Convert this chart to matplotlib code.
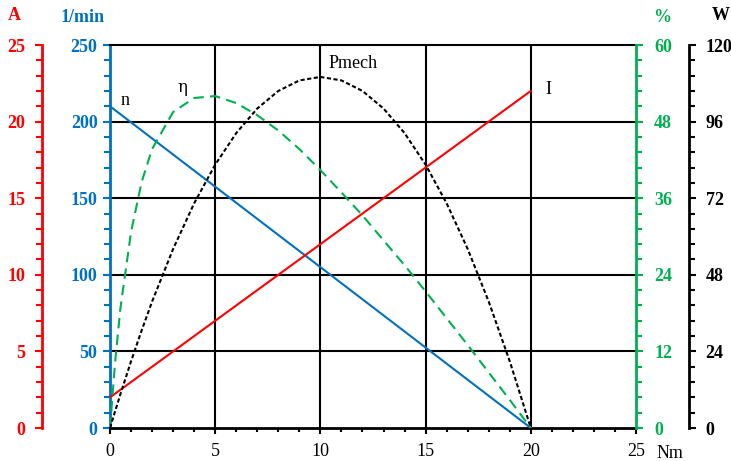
import matplotlib
matplotlib.use("Agg")
import matplotlib.pyplot as plt
from matplotlib.ticker import MultipleLocator

# Torque axis (Nm) and read-off curve values
torque_lin = [0, 20]
speed_rpm = [210, 0]          # n, 1/min
current_a = [2, 22]           # I, A

torque = [0, 0.25, 0.5, 1, 1.5, 2, 3, 4, 5, 6, 7, 8, 9, 10,
          11, 12, 13, 14, 15, 16, 17, 18, 19, 20]
efficiency = [0, 10.6, 18.9, 30.7, 38.5, 43.7, 49.5, 51.7, 52.0, 50.9, 49.0, 46.6, 43.7, 40.4,
              36.9, 33.3, 29.4, 25.5, 21.4, 17.2, 13.0, 8.7, 4.4, 0]   # eta, %
power_w = [0, 5.4, 10.7, 20.9, 30.5, 39.6, 56.1, 70.4, 82.5, 92.4, 100.1, 105.6, 108.9, 110.0,
           108.9, 105.6, 100.1, 92.4, 82.5, 70.4, 56.1, 39.6, 20.9, 0]  # Pmech, W

RED = "#FF0000"
BLUE = "#0070C0"
GREEN = "#00B050"
BLACK = "#000000"

plt.rcParams["font.family"] = ["Liberation Serif", "DejaVu Serif"]

fig = plt.figure(figsize=(7.31, 4.61), dpi=100)
L, R, B, T = 110 / 731, 636 / 731, 33 / 461, 416 / 461
ax = fig.add_axes([L, B, R - L, T - B])


def style_axis(a, color, side, pos, lo, hi, major, minor, pad):
    a.set_ylim(lo, hi)
    a.yaxis.set_major_locator(MultipleLocator(major))
    a.yaxis.set_minor_locator(MultipleLocator(minor))
    for s in a.spines.values():
        s.set_visible(False)
    sp = a.spines[side]
    sp.set_visible(True)
    sp.set_position(("axes", pos))
    sp.set_color(color)
    sp.set_linewidth(2)
    a.yaxis.set_ticks_position(side)
    a.tick_params(axis="y", which="major", length=5, width=1.5, color=color,
                  labelcolor=color, labelsize=13, pad=pad, direction="out")
    a.tick_params(axis="y", which="minor", length=4, width=1.5, color=color, direction="out")
    for lab in a.get_yticklabels():
        lab.set_fontweight("bold")


# main axis: speed
ax.set_xlim(0, 25)
style_axis(ax, BLUE, "left", 0, 0, 250, 50, 10, 4)
ax.spines["bottom"].set_visible(True)
ax.spines["bottom"].set_color(BLACK)
ax.spines["bottom"].set_linewidth(2)
ax.spines["top"].set_visible(True)
ax.spines["top"].set_color(BLACK)
ax.spines["top"].set_linewidth(1.5)
ax.xaxis.set_major_locator(MultipleLocator(5))
ax.xaxis.set_minor_locator(MultipleLocator(1))
ax.tick_params(axis="x", which="major", length=4, width=1.5, labelsize=13, pad=7)
ax.tick_params(axis="x", which="minor", length=3, width=1.5)
ax.tick_params(axis="x", top=False)
for x in [5, 10, 15, 20]:
    ax.axvline(x, color=BLACK, lw=1.5, zorder=1)
for y in [50, 100, 150, 200]:
    ax.axhline(y, color=BLACK, lw=1.5, zorder=1)

# current axis (red, far left)
ax_i = ax.twinx()
style_axis(ax_i, RED, "left", -68 / 526, 0, 25, 5, 1, 7)

# efficiency axis (green, right)
ax_e = ax.twinx()
style_axis(ax_e, GREEN, "right", 1.0, 0, 60, 12, 2.4, 8)

# power axis (black, far right)
ax_p = ax.twinx()
style_axis(ax_p, BLACK, "right", 579 / 526, 0, 120, 24, 4.8, 7)

ax.plot(torque_lin, speed_rpm, color=BLUE, lw=1.5, zorder=3)
ax_i.plot(torque_lin, current_a, color=RED, lw=1.5)
ax_e.plot(torque, efficiency, color=GREEN, lw=1.5, dashes=(5, 3))
ax_p.plot(torque, power_w, color=BLACK, lw=1.5, dashes=(2, 1.2))

# curve labels
ax.text(0.5, 214, "n", fontsize=13, ha="left", va="center")
ax.text(3.2, 222, "η", fontsize=12, ha="left", va="center", family=["DejaVu Serif"])
ax.text(10.4, 238, "Pmech", fontsize=13, ha="left", va="center")
ax.text(20.7, 221, "I", fontsize=13, ha="left", va="center")

# axis titles
fig.text(14 / 731, 1 - 16 / 461, "A", color=RED, fontsize=13, fontweight="bold", ha="center", va="center")
fig.text(83 / 731, 1 - 17 / 461, "1/min", color=BLUE, fontsize=13, fontweight="bold", ha="center", va="center")
fig.text(662 / 731, 1 - 17 / 461, "%", color=GREEN, fontsize=13, fontweight="bold", ha="center", va="center")
fig.text(712 / 731, 1 - 16 / 461, "W", color=BLACK, fontsize=13, fontweight="bold", ha="left", va="center")
fig.text(670 / 731, 1 - 453 / 461, "Nm", color=BLACK, fontsize=13, ha="center", va="center")

fig.savefig("out.png", dpi=100)
